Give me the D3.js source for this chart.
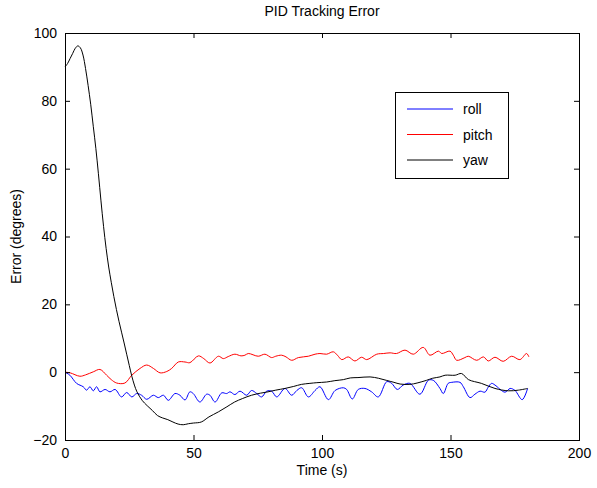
<!DOCTYPE html>
<html>
<head>
<meta charset="utf-8">
<script src="https://cdn.jsdelivr.net/npm/d3@7"></script>
<style>
  body { margin: 0; background: #fff; }
  text { font-family: "Liberation Sans", Arial, sans-serif; }
</style>
</head>
<body>
<svg></svg>
<script>
// roll (blue)
const rollT = [0, 1.9, 4.5, 7.1, 8.4, 9.7, 11, 12.3, 13.6, 15.6, 17.5, 19.5, 22, 24, 26, 27.9, 29.8, 31.8, 34.4, 36.3, 38.3, 40.2, 42.8, 44.7, 46.7, 48.6, 49.9, 52.5, 55.1, 56.4, 58.4, 61, 62.9, 64.2, 66.1, 68.1, 70.7, 72.6, 74.6, 76.5, 78.5, 80.4, 82.4, 85.6, 88.2, 90.2, 92.1, 94.7, 97.3, 99.2, 102.5, 105.1, 108.3, 109.6, 111.8, 114.1, 116.7, 119.3, 121.9, 125.2, 127.1, 129.3, 131.6, 134.2, 138.1, 141.4, 143.3, 145.9, 147.2, 149.1, 150.5, 153.7, 155, 157.6, 159.5, 161.5, 163.4, 164.7, 166, 167.3, 171.2, 173.2, 175.1, 177.9, 180];
const rollV = [0, -0.9, -3.3, -4.3, -5.3, -4.3, -5.5, -4.3, -5.8, -5.1, -5.8, -5.1, -7.3, -6.0, -7.3, -6.3, -6.8, -8.0, -6.8, -7.5, -6.8, -8.3, -6.3, -6.8, -8.2, -5.8, -6.3, -8.8, -6.5, -6.8, -8.8, -6.1, -6.3, -5.8, -6.6, -5.6, -6.8, -5.4, -6.3, -7.3, -5.6, -5.6, -7.3, -4.8, -6.8, -5.4, -4.6, -7.3, -5.4, -4.3, -8.1, -5.4, -4.6, -5.1, -7.9, -5.1, -4.8, -5.8, -7.3, -2.8, -3.3, -5.1, -3.8, -3.3, -6.5, -2.4, -2.4, -4.8, -6.3, -3.3, -3.0, -3.0, -4.3, -7.5, -6.5, -5.6, -5.9, -4.4, -3.3, -3.8, -5.9, -4.8, -5.4, -8.1, -4.8];

// pitch (red)
const pitchT = [0, 2, 5.8, 8, 11, 13.6, 16.2, 18, 20.1, 23.3, 26, 29.2, 31.8, 34.4, 37, 39.6, 41.5, 44.1, 46.7, 48.6, 51.9, 54, 56.4, 59.7, 61.6, 63.5, 66.1, 68.5, 70, 71.3, 75.2, 77.8, 80.4, 82, 84.3, 86, 88.2, 90.8, 94.7, 97.3, 99.2, 101.8, 104.4, 106, 107.7, 110.2, 112.8, 115.4, 117.4, 121.3, 124, 126.5, 129, 132.3, 135.5, 139.4, 142, 145.3, 146.6, 149.8, 151.1, 152.4, 155.6, 156.9, 160.2, 162.8, 164.7, 167.3, 170.5, 173.8, 177, 179.6, 180.5];
const pitchV = [0, -0.2, -1.2, -0.8, 0.1, 0.8, -0.9, -2.2, -3.2, -3.2, -0.9, 1.1, 2.1, 1.1, -0.2, 0.2, 1.1, 3.0, 3.0, 2.8, 4.8, 4.0, 2.7, 4.7, 4.0, 4.6, 5.3, 4.8, 5.0, 5.5, 4.7, 5.3, 4.3, 4.7, 5.0, 4.5, 3.5, 4.3, 4.7, 5.3, 5.5, 5.3, 6.0, 5.0, 3.7, 4.5, 3.3, 4.4, 3.7, 5.3, 5.5, 5.7, 5.5, 6.5, 5.3, 7.3, 5.0, 6.2, 5.5, 6.2, 5.0, 3.5, 4.3, 4.7, 3.5, 4.5, 3.3, 4.4, 3.2, 4.7, 3.7, 5.5, 4.5];

// yaw (black)
const yawT = [0, 1, 2, 3, 4, 5, 6, 7, 8, 9, 10, 11, 12, 13, 14, 15, 16, 17, 18, 19, 20, 21, 22, 23, 24, 25, 26, 27, 28, 30, 32, 34, 36, 38, 40, 42, 44, 46, 48, 50, 53, 56, 59.7, 63, 66, 69, 72.6, 76, 79, 82, 85.6, 89, 92, 95.3, 98, 101.8, 105, 108.3, 111, 114, 118.7, 122, 125, 128, 130.4, 134.2, 137, 140.7, 143, 145.9, 147.9, 151.8, 154.3, 157, 162, 167.3, 172.5, 176.4, 180];
const yawV = [90, 91, 92.5, 94, 95.5, 96.2, 95.6, 93.5, 89.5, 84.5, 79, 72.5, 66, 58.5, 50.5, 43, 36.5, 31, 26.5, 22.3, 18.5, 15, 11.8, 8.6, 5.3, 2, -1.2, -3.8, -5.8, -8.3, -9.9, -11.3, -12.8, -13.5, -14, -14.7, -15.3, -15.5, -15.2, -15, -14.7, -13.2, -11.7, -10.2, -8.8, -7.8, -6.8, -6.2, -5.8, -5.3, -4.8, -4.2, -3.6, -3.3, -3.1, -2.9, -2.5, -2.2, -1.7, -1.6, -1.4, -1.8, -2.4, -3.0, -3.5, -3.6, -3.2, -2.4, -1.8, -1.4, -0.9, -0.9, -0.4, -2.2, -3.3, -4.8, -5.5, -5.3, -4.8];

const xTicks = [0, 50, 100, 150, 200];
const yTicks = [-20, 0, 20, 40, 60, 80, 100];

const seriesNames = ["roll", "pitch", "yaw"];
const seriesColors = ["#0000ff", "#ff0000", "#000000"];

const width = 597, height = 488;
const plot = { left: 65, right: 579, top: 33, bottom: 440 };

const svg = d3.select("svg")
    .attr("width", width)
    .attr("height", height)
    .style("background", "#fff");

const x = d3.scaleLinear().domain([0, 200]).range([plot.left, plot.right]);
const y = d3.scaleLinear().domain([-20, 100]).range([plot.bottom, plot.top]);

const series = [
    rollT.map((t, i) => [t, rollV[i]]),
    pitchT.map((t, i) => [t, pitchV[i]]),
    yawT.map((t, i) => [t, yawV[i]])
];

const line = d3.line()
    .x(d => x(d[0]))
    .y(d => y(d[1]))
    .curve(d3.curveCatmullRom.alpha(0.5));

svg.append("g")
    .selectAll("path")
    .data(series)
    .join("path")
    .attr("d", line)
    .attr("fill", "none")
    .attr("stroke", (d, i) => seriesColors[i])
    .attr("stroke-width", 1);

// axes, ticks inward on all four sides
const fmt = d => d < 0 ? "\u2212" + Math.abs(d) : String(d);

svg.append("g")
    .attr("transform", `translate(0,${plot.bottom})`)
    .call(d3.axisBottom(x).tickValues(xTicks).tickSize(-5).tickPadding(8).tickFormat(fmt))
    .call(g => g.select(".domain").remove());
svg.append("g")
    .attr("transform", `translate(0,${plot.top})`)
    .call(d3.axisTop(x).tickValues(xTicks).tickSize(-5).tickFormat(""))
    .call(g => g.select(".domain").remove());
svg.append("g")
    .attr("transform", `translate(${plot.left},0)`)
    .call(d3.axisLeft(y).tickValues(yTicks).tickSize(-5).tickPadding(8).tickFormat(fmt))
    .call(g => g.select(".domain").remove());
svg.append("g")
    .attr("transform", `translate(${plot.right},0)`)
    .call(d3.axisRight(y).tickValues(yTicks).tickSize(-5).tickFormat(""))
    .call(g => g.select(".domain").remove());

svg.selectAll(".tick text")
    .attr("font-size", 14)
    .attr("font-family", "Liberation Sans, Arial, sans-serif")
    .attr("fill", "#000");
svg.selectAll(".tick line").attr("stroke", "#000");

svg.append("rect")
    .attr("x", plot.left + 0.5)
    .attr("y", plot.top + 0.5)
    .attr("width", plot.right - plot.left)
    .attr("height", plot.bottom - plot.top)
    .attr("fill", "none")
    .attr("stroke", "#000")
    .attr("stroke-width", 1);

// titles
svg.append("text")
    .attr("x", (plot.left + plot.right) / 2)
    .attr("y", 16)
    .attr("text-anchor", "middle")
    .attr("font-size", 14)
    .text("PID Tracking Error");

svg.append("text")
    .attr("x", (plot.left + plot.right) / 2)
    .attr("y", 475)
    .attr("text-anchor", "middle")
    .attr("font-size", 14)
    .text("Time (s)");

svg.append("text")
    .attr("transform", `translate(21,${(plot.top + plot.bottom) / 2}) rotate(-90)`)
    .attr("text-anchor", "middle")
    .attr("font-size", 14)
    .text("Error (degrees)");

// legend
const legend = svg.append("g").attr("transform", "translate(395,92)");
legend.append("rect")
    .attr("x", 0.5)
    .attr("y", 0.5)
    .attr("width", 113)
    .attr("height", 86)
    .attr("fill", "#fff")
    .attr("stroke", "#000");

const rows = legend.selectAll("g.row")
    .data(seriesNames)
    .join("g")
    .attr("class", "row")
    .attr("transform", (d, i) => `translate(0,${17 + i * 25.5})`);
rows.append("line")
    .attr("x1", 12).attr("x2", 58)
    .attr("y1", 0).attr("y2", 0)
    .attr("stroke", (d, i) => seriesColors[i]);
rows.append("text")
    .attr("x", 68)
    .attr("y", 5)
    .attr("font-size", 14)
    .text(d => d);
</script>
</body>
</html>
